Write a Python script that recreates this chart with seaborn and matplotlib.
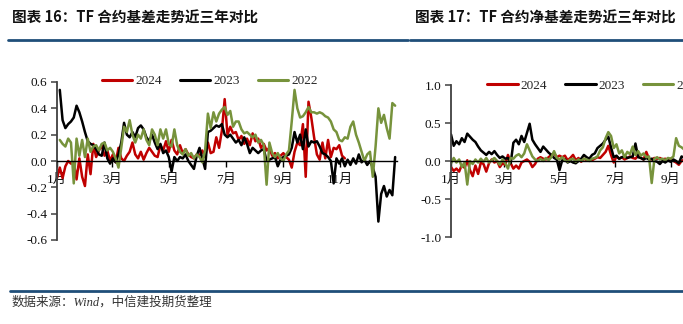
import numpy as np
import pandas as pd
import matplotlib
matplotlib.use("Agg")
import matplotlib.pyplot as plt
from matplotlib.lines import Line2D
import seaborn as sns

sns.set_theme(style="ticks")
plt.rcParams['font.family'] = ['Liberation Serif', 'Noto Sans CJK SC', 'DejaVu Sans']

# Observations are sampled every 3 calendar days, counted from 1 January
STEP = 3
years = ['2024', '2023', '2022']
colors = {'2024': '#C00000', '2023': '#000000', '2022': '#77933C'}
month_days = [0, 59, 120, 181, 243, 304]
month_labels = ['1月', '3月', '5月', '7月', '9月', '11月']

# ---- TF basis (yuan) ----
basis_start = {'2024': 0, '2023': 1, '2022': 1}
basis_2024 = [
    -0.13, -0.05, -0.13, -0.04, 0.00, -0.02, -0.01, -0.14, 0.02, -0.12,
    -0.19, 0.05, -0.10, 0.13, 0.03, 0.08, 0.12, 0.04, 0.08, 0.00,
    0.05, -0.01, 0.10, 0.02, 0.00, 0.04, 0.07, 0.14, 0.05, 0.02,
    0.07, 0.01, 0.06, 0.10, 0.07, 0.04, 0.03, 0.12, 0.08, 0.15,
    0.07, 0.16, 0.08, 0.05, 0.12, 0.06, 0.09, 0.05, 0.03, 0.02,
    0.05, 0.04, 0.08, 0.03, 0.14, 0.06, 0.07, 0.18, 0.10, 0.23,
    0.47, 0.20, 0.26, 0.21, 0.22, 0.16, 0.19, 0.13, 0.17, 0.12,
    0.21, 0.15, 0.17, 0.10, 0.13, 0.08, 0.10, 0.04, 0.06, 0.02,
    0.04, 0.06, 0.03, 0.01, -0.05, 0.07, 0.14, 0.12, 0.28, -0.12,
    0.45, 0.33, 0.18, 0.05, 0.01, 0.14, 0.02, 0.16, 0.03, 0.10,
    0.09, 0.12, 0.04, 0.02]
basis_2023 = [
    0.54, 0.31, 0.25, 0.28, 0.30, 0.33, 0.42, 0.37, 0.30, 0.22,
    0.15, 0.13, 0.12, 0.09, 0.05, 0.04, 0.14, 0.02, -0.02, 0.02,
    -0.01, 0.05, 0.14, 0.29, 0.20, 0.18, 0.22, 0.18, 0.25, 0.27,
    0.24, 0.18, 0.15, 0.20, 0.14, 0.09, 0.13, 0.06, 0.08, 0.03,
    -0.08, 0.03, 0.00, 0.03, 0.02, 0.05, 0.00, -0.03, -0.06, 0.04,
    0.10, 0.02, -0.06, 0.22, 0.23, 0.25, 0.27, 0.26, 0.28, 0.20,
    0.18, 0.20, 0.17, 0.14, 0.16, 0.12, 0.18, 0.13, 0.06, 0.10,
    0.08, 0.06, 0.08, 0.09, 0.00, 0.01, 0.02, 0.03, -0.04, 0.01,
    0.03, 0.04, 0.05, 0.10, 0.22, 0.14, 0.20, 0.09, 0.24, 0.11,
    0.15, 0.14, 0.15, 0.11, 0.06, 0.05, 0.03, 0.00, -0.17, 0.02,
    -0.02, 0.02, -0.04, 0.01, -0.03, 0.02, -0.02, 0.05, -0.01, 0.01,
    -0.03, 0.00, -0.05, -0.12, -0.46, -0.25, -0.19, -0.27, -0.22, -0.26, 0.03]
basis_2022 = [
    0.16, 0.13, 0.11, 0.17, 0.14, -0.17, 0.17, 0.04, 0.16, 0.03,
    0.17, 0.07, 0.11, 0.12, 0.08, 0.13, 0.14, 0.08, 0.10, 0.07,
    0.02, -0.05, 0.10, 0.26, 0.22, 0.31, 0.20, 0.14, 0.20, 0.17,
    0.24, 0.16, 0.12, 0.24, 0.20, 0.12, 0.24, 0.17, 0.24, 0.13,
    0.11, 0.24, 0.12, 0.07, 0.05, 0.09, 0.04, 0.06, 0.02, 0.05,
    0.03, -0.01, 0.08, 0.36, 0.25, 0.37, 0.30, 0.36, 0.39, 0.41,
    0.35, 0.38, 0.26, 0.30, 0.30, 0.24, 0.21, 0.22, 0.20, 0.18,
    0.20, 0.14, 0.16, 0.12, -0.18, 0.14, 0.06, 0.03, 0.06, 0.02,
    0.00, 0.05, 0.08, 0.30, 0.54, 0.40, 0.33, 0.34, 0.37, 0.41,
    0.37, 0.37, 0.36, 0.37, 0.36, 0.34, 0.33, 0.30, 0.24, 0.22,
    0.16, 0.15, 0.18, 0.17, 0.26, 0.30, 0.20, 0.14, 0.07, 0.00,
    0.05, 0.07, -0.12, 0.11, 0.40, 0.29, 0.35, 0.25, 0.17, 0.44, 0.42]

# ---- TF net basis (yuan) ----
net_start = {'2024': 0, '2023': 0, '2022': 0}
net_2024 = [
    -0.08, -0.13, -0.10, -0.14, -0.05, -0.09, 0.01, -0.12, -0.20, -0.06,
    -0.17, -0.02, -0.04, -0.14, -0.03, 0.02, -0.02, 0.00, -0.08, -0.03,
    -0.05, 0.08, -0.03, -0.10, -0.06, -0.10, -0.02, 0.00, 0.02, -0.01,
    -0.08, -0.04, 0.03, 0.05, 0.03, 0.02, 0.05, 0.08, 0.10, 0.05,
    0.07, 0.05, 0.07, 0.01, 0.04, 0.08, 0.01, 0.04, -0.01, 0.03,
    0.01, 0.03, 0.01, 0.03, 0.05, 0.04, 0.08, 0.12, 0.20, 0.08,
    -0.02, 0.06, 0.03, 0.05, 0.02, 0.04, 0.06, 0.04, 0.03, 0.07,
    0.04, 0.02, 0.12, 0.03, 0.02, 0.04, 0.03, 0.04, 0.02, 0.03,
    0.01, 0.03, 0.00, -0.02, -0.05, 0.00, 0.02]
net_2023 = [
    0.35, 0.20, 0.26, 0.22, 0.30, 0.25, 0.36, 0.32, 0.28, 0.25,
    0.19, 0.14, 0.11, 0.08, 0.12, 0.09, 0.13, 0.08, 0.04, 0.06,
    0.03, 0.04, -0.03, 0.24, 0.28, 0.22, 0.33, 0.25, 0.37, 0.49,
    0.28, 0.22, 0.17, 0.12, 0.19, 0.15, 0.11, 0.08, 0.04, 0.02,
    -0.12, 0.01, 0.02, -0.02, 0.00, -0.02, -0.03, 0.00, 0.03, 0.08,
    0.05, 0.03, 0.08, 0.10, 0.17, 0.20, 0.23, 0.28, 0.32, 0.18,
    0.05, 0.07, 0.03, 0.05, 0.06, 0.04, 0.05, 0.06, 0.23, 0.05,
    0.04, 0.02, 0.04, 0.02, 0.03, 0.00, -0.01, -0.04, 0.00, -0.02,
    0.01, -0.01, 0.02, 0.00, -0.03, 0.06, 0.04]
net_2022 = [
    -0.03, 0.04, -0.02, 0.02, -0.08, -0.02, -0.31, 0.00, -0.04, 0.02,
    -0.02, 0.03, -0.01, 0.04, -0.02, 0.01, 0.04, 0.00, -0.05, 0.02,
    -0.03, -0.10, 0.04, 0.03, 0.07, 0.09, 0.05, 0.10, 0.22, 0.14,
    0.06, 0.02, 0.00, 0.03, 0.00, 0.04, 0.01, 0.05, 0.13, 0.04,
    0.02, 0.05, 0.01, -0.01, 0.02, 0.03, -0.01, 0.02, 0.00, 0.03,
    0.02, 0.00, 0.03, 0.04, 0.06, 0.14, 0.18, 0.30, 0.38, 0.33,
    0.17, 0.22, 0.10, 0.14, 0.05, 0.12, 0.09, 0.19, 0.08, 0.13,
    0.07, 0.10, 0.05, 0.06, -0.29, 0.03, 0.05, 0.02, 0.03, 0.01,
    0.04, 0.03, 0.06, 0.30, 0.20, 0.18, 0.15]


def long_frame(series, start):
    parts = []
    for yr, vals in series.items():
        day = (start[yr] + np.arange(len(vals))) * STEP
        parts.append(pd.DataFrame({'day': day, 'value': vals, 'year': yr}))
    return pd.concat(parts, ignore_index=True)


basis_df = long_frame({'2024': basis_2024, '2023': basis_2023, '2022': basis_2022}, basis_start)
net_df = long_frame({'2024': net_2024, '2023': net_2023, '2022': net_2022}, net_start)

W, H = 683, 324
fig = plt.figure(figsize=(W / 100, H / 100), dpi=100)
fig.patch.set_facecolor('white')


def px_axes(x0, y_top, x1, y_bot):
    return fig.add_axes([x0 / W, 1 - y_bot / H, (x1 - x0) / W, (y_bot - y_top) / H])


def style_axes(ax, ylim, yticks, yfmt):
    ax.set_xlim(0, 365)
    ax.set_ylim(*ylim)
    ax.set_yticks(yticks)
    ax.set_yticklabels([yfmt.format(v) for v in yticks])
    ax.set_xticks(month_days)
    ax.set_xticklabels(month_labels)
    ax.set_xlabel('')
    ax.set_ylabel('')
    for s in ('top', 'right'):
        ax.spines[s].set_visible(False)
    ax.spines['bottom'].set_position(('data', 0))
    ax.spines['bottom'].set_color('#000000')
    ax.spines['bottom'].set_linewidth(1.0)
    ax.spines['left'].set_color('#404040')
    ax.spines['left'].set_linewidth(1.3)
    ax.tick_params(axis='y', direction='out', length=4, width=1.1, color='#404040',
                   labelsize=9.5, pad=3, labelcolor='#111111')
    ax.tick_params(axis='x', direction='out', length=4, width=1.0, color='#000000',
                   labelsize=9.5, pad=5, labelcolor='#111111')
    ax.set_facecolor('none')


def draw(ax, df):
    sns.lineplot(data=df, x='day', y='value', hue='year', hue_order=years,
                 palette=colors, estimator=None, sort=False, linewidth=1.8,
                 legend=False, ax=ax)


def add_legend(ax, anchor):
    handles = [Line2D([], [], color=colors[y], lw=2.2) for y in years]
    ax.legend(handles, years, ncol=3, loc='center', bbox_to_anchor=anchor,
              frameon=False, fontsize=9.5, handlelength=2.3, handletextpad=0.25,
              columnspacing=1.35, borderpad=0, borderaxespad=0)


ax1 = px_axes(57, 82, 397, 240)
draw(ax1, basis_df)
style_axes(ax1, (-0.6, 0.6), [-0.6, -0.4, -0.2, 0.0, 0.2, 0.4, 0.6], '{:.1f}')
add_legend(ax1, (0.45, 1.005))

ax2 = px_axes(451, 85, 781, 237)
draw(ax2, net_df)
style_axes(ax2, (-1.0, 1.0), [-1.0, -0.5, 0.0, 0.5, 1.0], '{:.1f}')
add_legend(ax2, (0.437, 0.995))

# Header titles and rules
title_font = ['Noto Sans CJK SC', 'DejaVu Sans']
fig.text(12 / W, 1 - 18 / H, '图表 16：TF 合约基差走势近三年对比', fontsize=10.5,
         fontweight='bold', family=title_font, va='center', ha='left', color='#111111')
fig.text(415 / W, 1 - 18 / H, '图表 17：TF 合约净基差走势近三年对比', fontsize=10.5,
         fontweight='bold', family=title_font, va='center', ha='left', color='#111111')
rule = '#1F4E79'
fig.add_artist(Line2D([8 / W, 408 / W], [1 - 40 / H] * 2, color=rule, lw=2.0))
fig.add_artist(Line2D([410 / W, 1.0], [1 - 40 / H] * 2, color=rule, lw=2.0))
fig.add_artist(Line2D([10 / W, 1.0], [1 - 291 / H] * 2, color=rule, lw=2.0))
fig.text(12 / W, 1 - 302 / H, '数据来源：Wind，中信建投期货整理', fontsize=9,
         style='italic', family=['Liberation Serif', 'Noto Sans CJK SC'],
         va='center', ha='left', color='#333333')

fig.savefig('out.png', dpi=100, facecolor='white')
